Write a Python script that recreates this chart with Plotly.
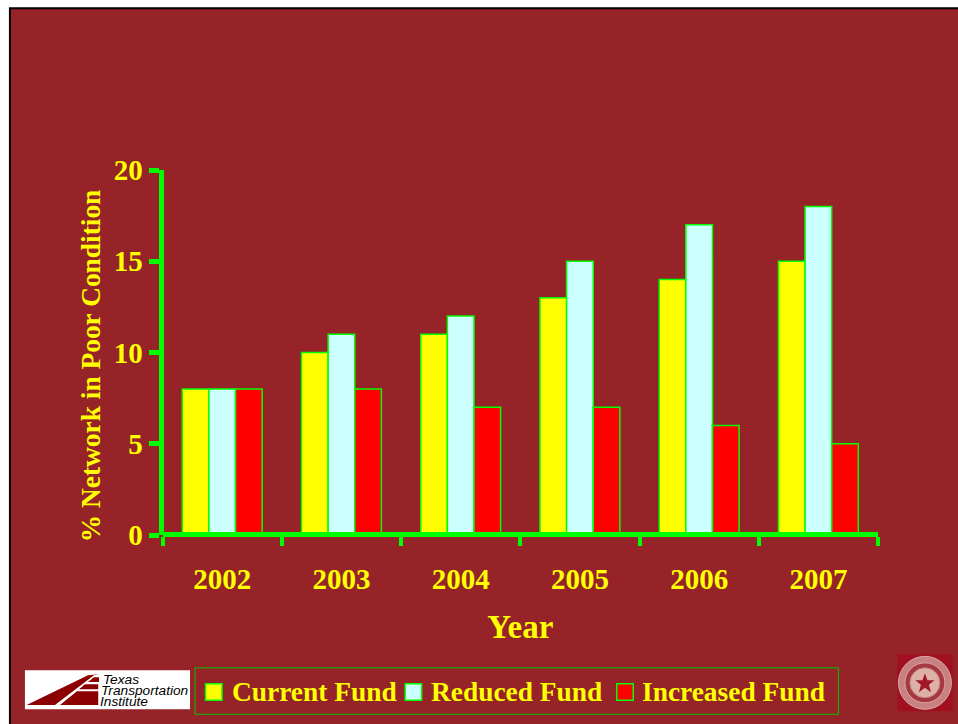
import plotly.graph_objects as go

years = ["2002", "2003", "2004", "2005", "2006", "2007"]
series_names = ["Current Fund", "Reduced Fund", "Increased Fund"]
current_fund = [8, 10, 11, 13, 14, 15]
reduced_fund = [8, 11, 12, 15, 17, 18]
increased_fund = [8, 8, 7, 7, 6, 5]
series_colors = ["#FFFF00", "#CCFFFF", "#FF0000"]
y_ticks = [0, 5, 10, 15, 20]

BG = "#962327"
LIME = "#00FF00"
YEL = "#FFFF00"
SERIF = "Liberation Serif"

# outer plot area; the axes' domains and free positions sit inside it
L, R, T, B = 150.0, 877.6, 170.0, 547.5
X0, Y0 = 162.6, 535.5     # where the first category boundary and value 0 fall
LW = 5
def px(x): return (x - L) / (R - L)
def py(y): return (B - y) / (B - T)

def rect(x0, y0, x1, y1, fill, line=None, lw=0, layer="below"):
    return dict(type="rect", xref="paper", yref="paper", x0=px(x0), x1=px(x1), y0=py(y0), y1=py(y1),
                fillcolor=fill, line=dict(color=line or fill, width=lw), layer=layer)

def poly(points, fill):
    d = "M" + " L".join(f"{px(a):.5f},{py(b):.5f}" for a, b in points) + " Z"
    return dict(type="path", xref="paper", yref="paper", path=d, fillcolor=fill, line=dict(width=0), layer="above")

def circle(cx, cy, r, fill, line, lw):
    return dict(type="circle", xref="paper", yref="paper", x0=px(cx - r), x1=px(cx + r), y0=py(cy + r), y1=py(cy - r),
                fillcolor=fill, line=dict(color=line, width=lw), layer="above")

fig = go.Figure()
for name, vals, col in zip(series_names, [current_fund, reduced_fund, increased_fund], series_colors):
    fig.add_bar(name=name, x=years, y=vals, marker=dict(color=col, line=dict(color=LIME, width=1.5)))

shapes = [
    rect(10, 8, 964, 730, BG, "#000000", 2),
    rect(25, 671, 190, 710, "#FFFFFF", layer="above"),
    poly([(26.7, 705.7), (55, 705.7), (94, 676), (99, 675), (88, 676)], "#8B0000"),
    poly([(60, 705.7), (98.3, 705.7), (98.3, 692), (77, 692)], "#8B0000"),
    poly([(79, 690), (98.3, 690), (98.3, 685), (85, 685)], "#8B0000"),
    poly([(88, 682.7), (99, 682.7), (99, 678), (94, 678)], "#8B0000"),
    rect(897, 655, 952, 712, "#A01020", layer="above"),
    circle(924.5, 683.5, 26.5, "#C88080", "#D8A8A8", 1),
    circle(924.5, 683.5, 20, "#A83840", "#D8A8A8", 1),
    circle(924.5, 683.5, 15, "#DDB0A8", "#C08080", 1),
    poly([(924.5, 674), (927, 681), (934, 681), (928.5, 685.5), (930.5, 693), (924.5, 688.5),
          (918.5, 693), (920.5, 685.5), (915, 681), (922, 681)], "#A01828"),
    rect(195, 668.5, 838, 715, "rgba(0,0,0,0)", "#00C800", 1),
]

annos = []
for txt, y, x in [("Texas", 680, 101.5), ("Transportation", 691, 99.5), ("Institute", 702, 98)]:
    annos.append(dict(text=f"<i>{txt}</i>", xref="paper", yref="paper", x=px(x), y=py(y), xanchor="left",
                      yanchor="middle", showarrow=False,
                      font=dict(family="Liberation Sans", size=13.7, color="#000000")))

legend_swatch_x = [205.5, 405, 616.5]
legend_text_x = [230, 429, 640]
for name, col, sx, tx in zip(series_names, series_colors, legend_swatch_x, legend_text_x):
    shapes.append(rect(sx, 684.5, sx + 16.5, 701, col, LIME, 1.5))
    annos.append(dict(text=f"<b>{name}</b>", xref="paper", yref="paper", x=px(tx), y=py(692.5), xanchor="left",
                      yanchor="middle", showarrow=False, font=dict(family=SERIF, size=27.4, color=YEL)))

annos.append(dict(text="<b>% Network in Poor Condition</b>", xref="paper", yref="paper", x=px(91), y=py(365.5),
                  textangle=-90, xanchor="center", yanchor="middle", showarrow=False,
                  font=dict(family=SERIF, size=27.4, color=YEL)))

fig.update_layout(
    width=958, height=724, autosize=False,
    margin=dict(l=L, r=958 - R, t=T, b=724 - B, pad=0),
    paper_bgcolor="#FFFFFF", plot_bgcolor="rgba(0,0,0,0)",
    barmode="group", bargap=0.33, bargroupgap=0,
    font=dict(family=SERIF, color=YEL),
    shapes=shapes, annotations=annos,
    showlegend=False,
    xaxis=dict(type="category", range=[-0.5, 5.5], showgrid=False, zeroline=False, automargin=False,
               domain=[px(X0), 1], anchor="free", position=py(534.5),
               showline=True, linecolor=LIME, linewidth=LW,
               ticks="outside", tickson="boundaries", ticklen=9, tickwidth=4, tickcolor=LIME,
               ticklabelstandoff=17,
               tickfont=dict(family=SERIF, size=29, color=YEL, weight="bold"),
               title=dict(text="Year", standoff=21, font=dict(family=SERIF, size=33, color=YEL, weight="bold"))),
    yaxis=dict(range=[0, 20], tickvals=y_ticks, showgrid=False, zeroline=False, automargin=False,
               domain=[py(Y0), 1], anchor="free", position=px(160.6),
               showline=True, linecolor=LIME, linewidth=LW,
               ticks="outside", ticklen=10, tickwidth=5, tickcolor=LIME,
               tickfont=dict(family=SERIF, size=29, color=YEL, weight="bold")),
)

fig.write_html("out.html", config=dict(displayModeBar=False),
               post_script="document.body.style.margin='0';document.documentElement.style.overflow='hidden';")
